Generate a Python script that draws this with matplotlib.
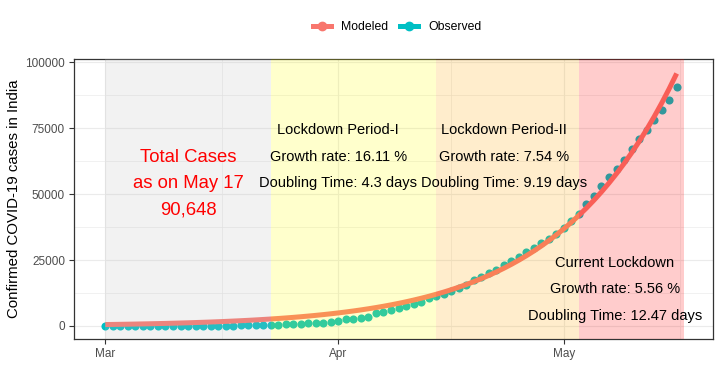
import matplotlib
matplotlib.use("Agg")
import matplotlib.pyplot as plt
import matplotlib.dates as mdates
from matplotlib.lines import Line2D
from matplotlib.ticker import FixedLocator
import pandas as pd

plt.rcParams["font.family"] = ["Liberation Sans", "DejaVu Sans"]

# -----------------------------
# Data (Mar 1 - May 16, 2020)
# -----------------------------

dates = pd.date_range("2020-03-01", "2020-05-16", freq="D")

observed = [
    3, 5, 6, 28, 30, 31, 34, 39, 43, 56, 62, 73, 82, 102, 113, 119,
    142, 156, 194, 244, 330, 396, 499, 536, 657, 727, 887, 987, 1024,
    1251, 1397,
    1998, 2543, 2567, 3082, 3588, 4778, 5311, 5916, 6725, 7598, 8446,
    9205, 10453, 11487, 12322, 13430, 14352, 15722, 17615, 18539, 20080,
    21370, 23077, 24530, 26283, 27890, 29451, 31324, 33062, 34863,
    37257, 39699, 42505, 46437, 49400, 52987, 56351, 59695, 62808,
    67161, 70768, 74292, 78055, 81997, 85784, 90648,
]

modeled = [
    545, 586, 631, 678, 730, 785, 844, 908, 976, 1049, 1128, 1212,
    1302, 1399, 1502, 1614, 1733, 1861, 1998, 2144, 2301, 2469, 2650,
    2842, 3049, 3270, 3506, 3759, 4030, 4320, 4629, 4961, 5315, 5694,
    6098, 6531, 6993, 7487, 8015, 8578, 9180, 9823, 10509, 11241,
    12023, 12858, 13748, 14698, 15711, 16792, 17944, 19173, 20482,
    21878, 23366, 24952, 26641, 28441, 30357, 32399, 34572, 36885,
    39349, 41971, 44762, 47730, 50887, 54247, 57818, 61618, 65657,
    69951, 74514, 79365, 84518, 89992, 95811,
]

# lockdown phases: start, end, fill colour
phase_starts = ["2020-03-01", "2020-03-23", "2020-04-14", "2020-05-03"]
phase_ends = ["2020-03-23", "2020-04-14", "2020-05-03", "2020-05-17"]
phase_colors = ["#BEBEBE", "yellow", "orange", "red"]

MODEL_COLOR = "#F8766D"
OBS_COLOR = "#00BFC4"

# -----------------------------
# Figure
# -----------------------------

fig = plt.figure(figsize=(7.2, 3.84), dpi=100)
ax = fig.add_axes([74 / 720, 1 - 339 / 384, 639 / 720, 280 / 384])

ax.scatter(dates, observed, s=34, color=OBS_COLOR, zorder=3, linewidths=0)
ax.plot(dates, modeled, color=MODEL_COLOR, lw=3.6, zorder=4,
        solid_capstyle="butt")

for start, end, col in zip(phase_starts, phase_ends, phase_colors):
    ax.axvspan(pd.Timestamp(start), pd.Timestamp(end), color=col,
               alpha=0.2, lw=0, zorder=5)

# text annotations
ax.text(pd.Timestamp("2020-03-12"), 54000,
        "Total Cases\nas on May 17\n90,648",
        color="red", fontsize=13.3, ha="center", va="center",
        linespacing=1.68, zorder=6)

ax.text(pd.Timestamp("2020-04-01"), 74300, "Lockdown Period-I",
        fontsize=10.5, ha="center", va="center", zorder=6)
ax.text(pd.Timestamp("2020-04-01"), 64300, "Growth rate: 16.11 %",
        fontsize=10.5, ha="center", va="center", zorder=6)
ax.text(pd.Timestamp("2020-04-01"), 54300, "Doubling Time: 4.3 days",
        fontsize=10.5, ha="center", va="center", zorder=6)

ax.text(pd.Timestamp("2020-04-23"), 74300, "Lockdown Period-II",
        fontsize=10.5, ha="center", va="center", zorder=6)
ax.text(pd.Timestamp("2020-04-23"), 64300, "Growth rate: 7.54 %",
        fontsize=10.5, ha="center", va="center", zorder=6)
ax.text(pd.Timestamp("2020-04-23"), 54300, "Doubling Time: 9.19 days",
        fontsize=10.5, ha="center", va="center", zorder=6)

ax.text(pd.Timestamp("2020-05-07 18:00"), 24000, "Current Lockdown",
        fontsize=10.5, ha="center", va="center", zorder=6)
ax.text(pd.Timestamp("2020-05-07 18:00"), 14000, "Growth rate: 5.56 %",
        fontsize=10.5, ha="center", va="center", zorder=6)
ax.text(pd.Timestamp("2020-05-07 18:00"), 3800, "Doubling Time: 12.47 days",
        fontsize=10.5, ha="center", va="center", zorder=6)

# -----------------------------
# Axes styling (theme_bw look)
# -----------------------------

ax.set_xlim(pd.Timestamp("2020-02-25 20:00"), pd.Timestamp("2020-05-20 20:00"))
ax.set_ylim(-4940, 101300)

ax.xaxis.set_major_locator(FixedLocator(mdates.date2num(
    [pd.Timestamp("2020-03-01"), pd.Timestamp("2020-04-01"),
     pd.Timestamp("2020-05-01")])))
ax.xaxis.set_minor_locator(FixedLocator(mdates.date2num(
    [pd.Timestamp("2020-03-16 12:00"), pd.Timestamp("2020-04-16"),
     pd.Timestamp("2020-05-16 12:00")])))
ax.xaxis.set_major_formatter(mdates.DateFormatter("%b"))

ax.set_yticks([0, 25000, 50000, 75000, 100000])
ax.set_yticklabels(["0", "25000", "50000", "75000", "100000"])
ax.set_yticks([12500, 37500, 62500, 87500], minor=True)

ax.grid(which="major", color="#EBEBEB", lw=0.8, zorder=0)
ax.grid(which="minor", color="#EBEBEB", lw=0.5, zorder=0)
ax.set_axisbelow(True)

for spine in ax.spines.values():
    spine.set_color("#333333")
    spine.set_linewidth(0.9)

ax.tick_params(which="major", length=3.5, width=0.8, color="#333333",
               labelsize=8.5, labelcolor="#4D4D4D", pad=3)
ax.tick_params(which="minor", length=0)

ax.set_ylabel("Confirmed COVID-19 cases in India", fontsize=10.8,
              labelpad=3)

# legend on top
handles = [
    Line2D([], [], color=MODEL_COLOR, lw=3.6, marker="o", ms=6),
    Line2D([], [], color=OBS_COLOR, lw=3.6, marker="o", ms=6),
]
fig.legend(handles, ["Modeled", "Observed"], loc="center",
           bbox_to_anchor=(397 / 720, 1 - 27 / 384), ncol=2,
           frameon=False, fontsize=8.8, handlelength=1.5,
           handletextpad=0.8, columnspacing=1.0)

plt.savefig("out.png", dpi=100)
plt.close()
